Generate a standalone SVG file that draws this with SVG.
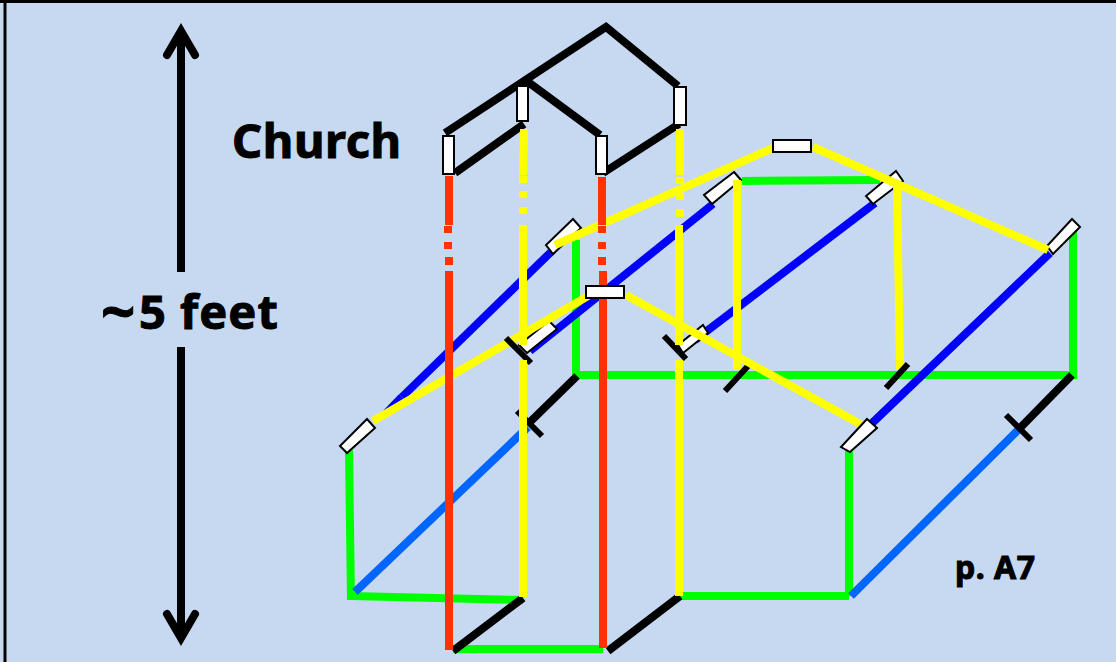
<svg xmlns="http://www.w3.org/2000/svg" width="1116" height="662" viewBox="0 0 1116 662">
<style>
.k{stroke:#000;stroke-width:8;fill:none}
.t{stroke:#000;stroke-width:6;fill:none}
.g{stroke:#00ff00;stroke-width:8;fill:none}
.b{stroke:#0000ff;stroke-width:8;fill:none}
.l{stroke:#0066ff;stroke-width:8;fill:none}
.y{stroke:#ffff00;stroke-width:8;fill:none}
.r{stroke:#ff3300;stroke-width:8;fill:none}
.box{fill:#fff;stroke:#000;stroke-width:2}
.lab{font-family:"Noto Sans",sans-serif;font-weight:700;fill:#000;stroke:#000;stroke-width:1}
</style>
<rect width="1116" height="662" fill="#c6d9f1"/>
<path d="M0 1.5H1116M5 0V662" stroke="#000" stroke-width="3" fill="none"/>
<g id="height-arrow">
<path class="k" d="M181 32V272M181 347V636"/>
<path d="M167 55L181 31L195 55M167 614L181 638L195 614" fill="none" stroke="#000" stroke-width="8" stroke-linecap="round" stroke-linejoin="miter"/>
</g>
<text class="lab" x="232" y="158" font-size="47" letter-spacing="0.6">Church</text>
<text class="lab" x="101" y="329" font-size="47"><tspan font-size="60" dy="4">~</tspan><tspan x="139" dy="-4" letter-spacing="1">5 feet</tspan></text>
<text class="lab" x="955" y="579" font-size="32" letter-spacing="0.5">p. A7</text>
<g id="connectors">
<path class="k" d="M445 133L606 27L678 86M524 79L600 135M455 173L524 124M603 173L679 124"/>
<path class="g" d="M576 240V375M572 375H1077M1073 230V375M742 181L880 180M349 450L351 600M351 596L523 600M453 649H603M680 596H849M849 450V596"/>
<path class="b" d="M402 397L553 250M530 351L713 204M695 340L875 203M868 427L1050 253"/>
<path d="M399.2 394L404.8 400L376 418Z" fill="#0000ff"/>
<path class="l" d="M355 592L528 427M851 596L1018 430"/>
<path class="k" d="M530 422L577 376M1020 428L1072 375M453 651L523 598M608 651L680 596"/>
<path class="t" d="M517 411L542 436M1006 415L1031 440"/>
</g>
<g id="n-box-f"><polygon class="box" points="703,325 708,333 683,353 678,345"/></g>
<g id="n-box-g"><polygon class="box" points="549,321 557,329 527,353 519,345"/></g>
<g id="n-box-a"><polygon class="box" points="573,219 581,228 553,254 546,245"/></g>
<g id="n-box-b"><polygon class="box" points="734,172 741,180 712,204 704,195"/></g>
<g id="n-box-c"><polygon class="box" points="896,171 903,181 873,204 866,196"/></g>
<g id="n-box-d"><polygon class="box" points="1072,219 1080,227 1053,254 1047,246"/></g>
<g id="connectors-upper">
<path class="y" d="M737 180V370M897 185L900 370"/>
<path class="t" d="M725 391L748 366M886 388L908 364"/>
<path class="y" d="M555 245L775 147M813 147L1048 250M373 421L588 296M626 295L862 425"/>
<path class="t" d="M506 338L531 363M664 336L686 359"/>
<path class="y" d="M524 129L523 175M523 176V183M523 191V198M523 207V214M523 225V345M523 360V597M680 129V175M680 177V184M680 193V200M680 209V217M679 225V345M679 360V596"/>
<path class="r" d="M449 176V225M448 226V233M448 242V249M449 257V265M449 271V650M602 177V225M602 226V233M602 242V249M602 257V265M603 271V648"/>
</g>
<g id="n-box-1"><rect class="box" x="443" y="136" width="11" height="38"/></g>
<g id="n-box-2"><rect class="box" x="517" y="86" width="11" height="35"/></g>
<g id="n-box-3"><rect class="box" x="596" y="136" width="11" height="38"/></g>
<g id="n-box-4"><rect class="box" x="674" y="87" width="12" height="38"/></g>
<g id="n-box-5"><rect class="box" x="773" y="140" width="38" height="12"/></g>
<g id="n-box-6"><rect class="box" x="586" y="286" width="38" height="12"/></g>
<g id="n-box-e"><polygon class="box" points="867,419 877,428 850,452 841,447"/></g>
<g id="n-box-h"><polygon class="box" points="367,419 375,428 347,453 340,446"/></g>
</svg>
